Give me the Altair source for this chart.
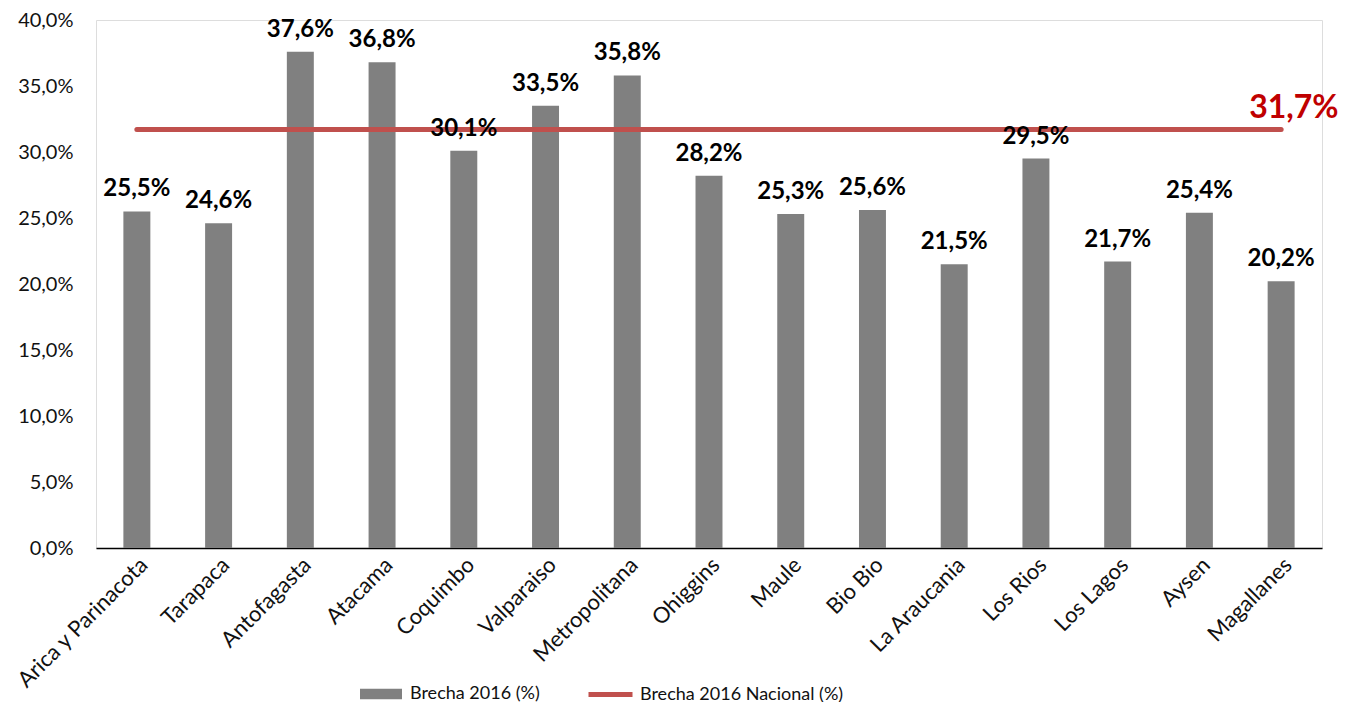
import altair as alt
import pandas as pd

categories = ["Arica y Parinacota", "Tarapaca", "Antofagasta", "Atacama", "Coquimbo",
              "Valparaiso", "Metropolitana", "Ohiggins", "Maule", "Bio Bio",
              "La Araucania", "Los Rios", "Los Lagos", "Aysen", "Magallanes"]
values = [25.5, 24.6, 37.6, 36.8, 30.1, 33.5, 35.8, 28.2, 25.3, 25.6, 21.5, 29.5, 21.7, 25.4, 20.2]
national_value = 31.7
series_bar = "Brecha 2016 (%)"
series_line = "Brecha 2016 Nacional (%)"
y_ticks = [0, 5, 10, 15, 20, 25, 30, 35, 40]


def pct(v):
    return f"{v:.1f}".replace(".", ",") + "%"


df = pd.DataFrame({"region": categories, "valor": values, "serie": series_bar,
                   "etiqueta": [pct(v) for v in values]})
nat = pd.DataFrame({"region": categories, "valor": [national_value] * len(categories),
                    "serie": series_line})
nat_label = pd.DataFrame({"region": [categories[-1]], "valor": [national_value],
                          "etiqueta": [pct(national_value)]})

FONT = "Lato"
TXT = "#111111"

x = alt.X("region:N", sort=categories, title=None,
          scale=alt.Scale(paddingInner=0.67, paddingOuter=0.335),
          axis=alt.Axis(labelAngle=-45, labelFontSize=22, labelFont=FONT, labelColor=TXT,
                        domainColor="#000000", domainWidth=1.5, ticks=False, tickSize=0,
                        labelPadding=6, labelLimit=300))
y = alt.Y("valor:Q", title=None, scale=alt.Scale(domain=[0, 40], nice=False),
          axis=alt.Axis(values=y_ticks,
                        labelExpr="replace(format(datum.value, '.1f'), '.', ',') + '%'",
                        domain=False, ticks=False, tickSize=0, grid=False, labelFontSize=20,
                        labelPadding=23, labelFont=FONT, labelColor=TXT))

bars = alt.Chart(df).mark_bar().encode(
    x=x, y=y,
    color=alt.Color("serie:N", scale=alt.Scale(domain=[series_bar], range=["#808080"]),
                    legend=alt.Legend(title=None, orient="none", legendX=264, legendY=653,
                                      padding=0, symbolType="M-1,-0.25H1V0.25H-1Z",
                                      symbolSize=1764, symbolStrokeWidth=0, symbolOpacity=1,
                                      labelFontSize=18, labelFont=FONT, labelColor=TXT,
                                      labelOffset=8, labelLimit=400)),
)

bar_text = alt.Chart(df).mark_text(baseline="alphabetic", dy=-15, fontSize=24,
                                   fontWeight="bold", font=FONT, color="#000000").encode(
    x=x, y=y, text="etiqueta:N")

line = alt.Chart(nat).mark_line(strokeWidth=5, strokeCap="round").encode(
    x=x, y=y,
    stroke=alt.Stroke("serie:N", scale=alt.Scale(domain=[series_line], range=["#C0504D"]),
                      legend=alt.Legend(title=None, orient="none", legendX=490, legendY=650,
                                        padding=0, symbolType="stroke", symbolSize=1936,
                                        symbolStrokeWidth=5, labelFontSize=18, labelFont=FONT,
                                        labelColor=TXT, labelOffset=5, labelLimit=400)),
)

line_text = alt.Chart(nat_label).mark_text(align="left", baseline="alphabetic", dx=-32, dy=-12,
                                           fontSize=32, fontWeight="bold", font=FONT,
                                           color="#C00000").encode(
    x=x, y=y, text="etiqueta:N")

chart = alt.layer(bars, line, bar_text, line_text).resolve_scale(
    color="independent", stroke="independent"
).properties(
    width=1226, height=528,
    autosize=alt.AutoSizeParams(type="none"),
    padding={"left": 88, "top": 12, "right": 18, "bottom": 154},
).configure_view(stroke=None).configure(background="white")

chart.save("out.html", embed_options={"renderer": "svg", "actions": False})
